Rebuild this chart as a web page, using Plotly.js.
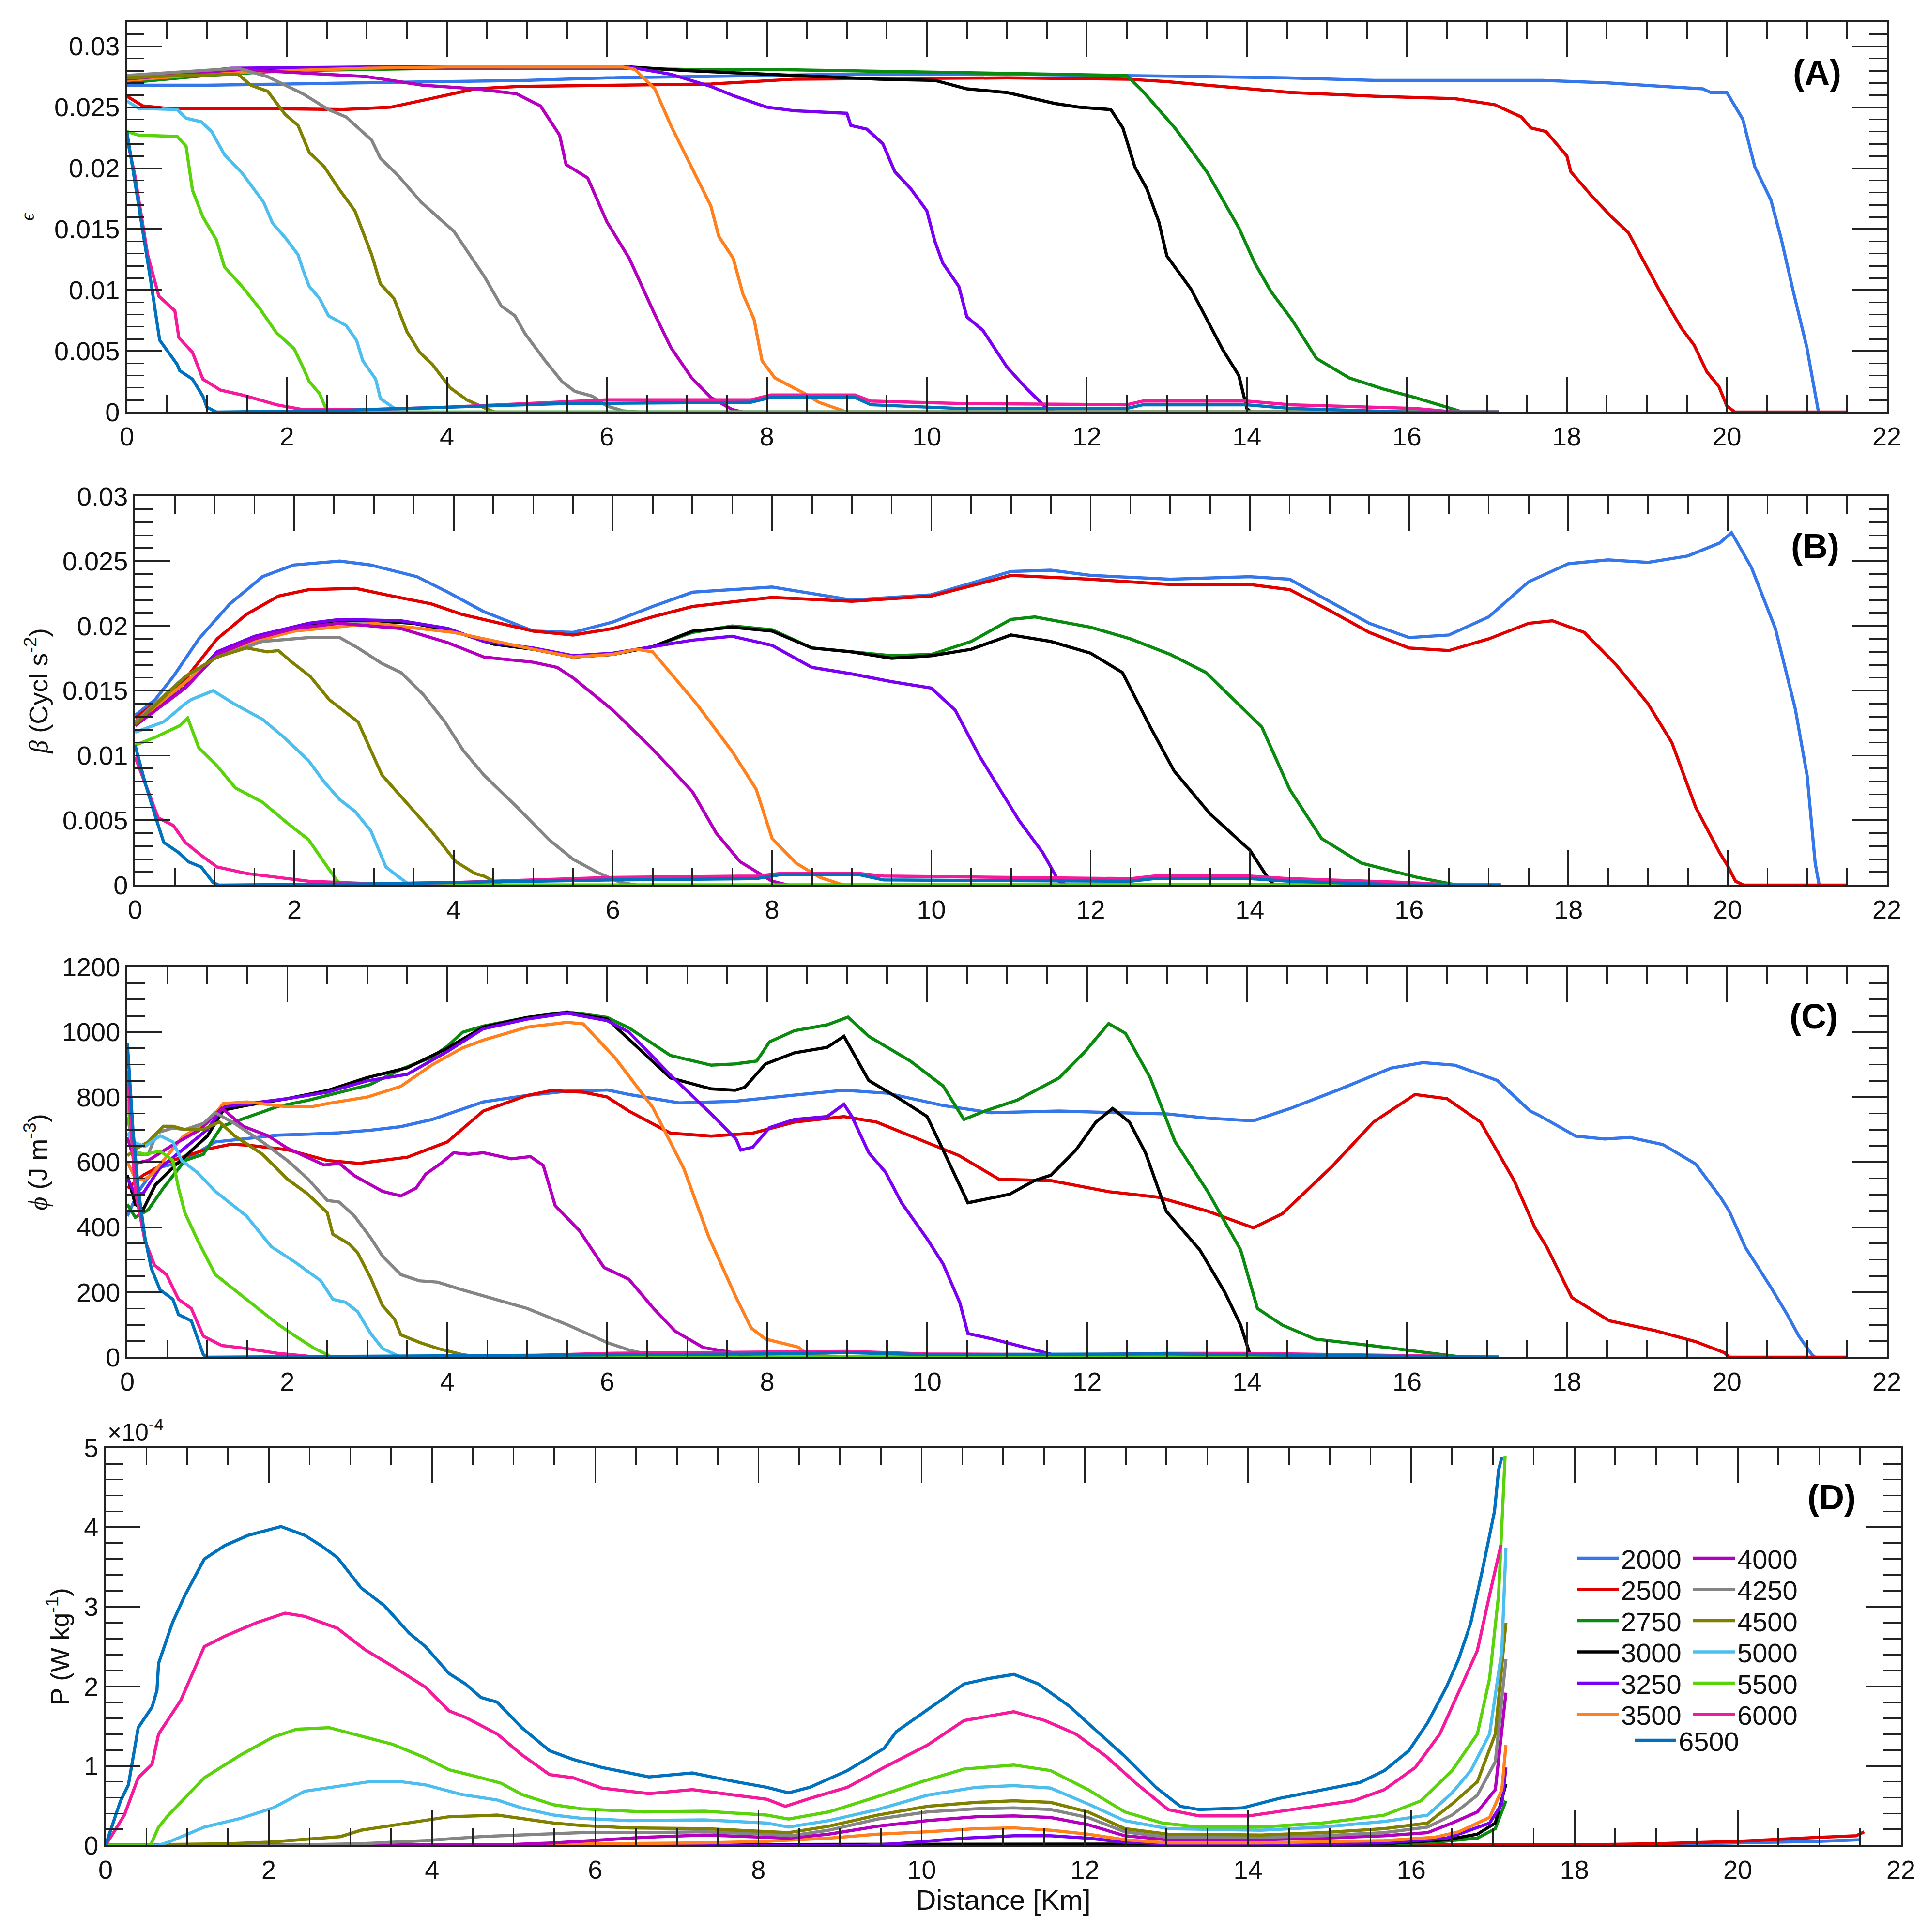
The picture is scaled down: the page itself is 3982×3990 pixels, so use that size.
<!DOCTYPE html>
<html>
<head>
<meta charset="utf-8">
<script src="https://cdn.plot.ly/plotly-3.0.1.min.js"></script>
<style>html,body{margin:0;padding:0;background:#fff}</style>
</head>
<body>
<div id="chart" style="width:3982px;height:3990px"></div>
<script>
// series labels (legend) in the order they are drawn
const depths = ['2000', '2500', '2750', '3000', '3250', '3500', '4000', '4250', '4500', '5000', '5500', '6000', '6500'];

// (A) epsilon vs distance [km]
const eps2000 = [[0,0.0268],[1,0.0268],[2,0.0269],[3,0.0270],[4,0.0271],[5,0.0272],[6,0.0274],[7,0.0275],[8,0.0276],[9,0.0277],[11,0.0277],[12.5,0.0276],[13.5,0.0275],[14.5,0.0274],[15.6,0.0272],[17.7,0.0272],[18.5,0.0270],[19.2,0.0267],[19.7,0.0265],[19.8,0.0262],[20.0,0.0262],[20.2,0.0240],[20.35,0.0201],[20.55,0.0174],[20.68,0.0142],[20.83,0.0099],[21.0,0.0053],[21.14,0.0002],[21.15,0]];
const eps2500 = [[0,0.0259],[0.2,0.0251],[0.5,0.0249],[1.5,0.0249],[2.7,0.0248],[3.3,0.0250],[3.8,0.0257],[4.35,0.0265],[4.9,0.0267],[6,0.0268],[7.3,0.0269],[8.35,0.0273],[10,0.0274],[11,0.0274],[12.5,0.0273],[13.0,0.0271],[13.5,0.0268],[14.55,0.0262],[15.6,0.0259],[16.6,0.0257],[17.1,0.0252],[17.43,0.0242],[17.55,0.0233],[17.74,0.0230],[18.0,0.0210],[18.05,0.0197],[18.3,0.0178],[18.56,0.0160],[18.77,0.0147],[18.97,0.0122],[19.18,0.0097],[19.43,0.0069],[19.59,0.0055],[19.75,0.0033],[19.9,0.0021],[20.0,0.0005],[20.1,0],[21.5,0]];
const eps2750 = [[0,0.0270],[1,0.0276],[2,0.0280],[3,0.0281],[4,0.0282],[6,0.0282],[7,0.0281],[8,0.0281],[9,0.0280],[10,0.0279],[11,0.0278],[12,0.0277],[12.5,0.0276],[12.7,0.0263],[13.1,0.0233],[13.5,0.0197],[13.9,0.0151],[14.1,0.0122],[14.3,0.0099],[14.56,0.0076],[14.87,0.0044],[15.28,0.0028],[15.7,0.0019],[16.1,0.0012],[16.6,0.0002],[16.7,0],[17.15,0]];
const eps3000 = [[0,0.0272],[1,0.0277],[1.5,0.0280],[3,0.0282],[5,0.0283],[6.3,0.0283],[7,0.0280],[8,0.0277],[9,0.0274],[9.4,0.0273],[10.1,0.0272],[10.5,0.0265],[11.0,0.0262],[11.6,0.0253],[11.9,0.0250],[12.3,0.0248],[12.45,0.0233],[12.6,0.0201],[12.75,0.0183],[12.9,0.0156],[13.0,0.0128],[13.3,0.0101],[13.5,0.0076],[13.7,0.0051],[13.9,0.0030],[14.0,0.0003],[14.05,0],[17.15,0]];
const eps3250 = [[0,0.0272],[0.5,0.0276],[1.3,0.0282],[3,0.0283],[6.28,0.0283],[6.8,0.0277],[7.3,0.0267],[7.6,0.0259],[8.0,0.0250],[8.35,0.0247],[9.0,0.0245],[9.05,0.0235],[9.25,0.0232],[9.45,0.0220],[9.6,0.0197],[9.8,0.0183],[10.0,0.0165],[10.1,0.0140],[10.2,0.0122],[10.4,0.0103],[10.5,0.0078],[10.7,0.0067],[11.0,0.0037],[11.25,0.0019],[11.5,0.0003],[11.6,0],[17.15,0]];
const eps3500 = [[0,0.0272],[1,0.0277],[2,0.0280],[3,0.0282],[4,0.0283],[6.2,0.0283],[6.35,0.0281],[6.6,0.0265],[6.8,0.0235],[7.06,0.0201],[7.3,0.0169],[7.4,0.0144],[7.58,0.0126],[7.7,0.0097],[7.84,0.0076],[7.94,0.0042],[8.1,0.0028],[8.36,0.0019],[8.45,0.0016],[8.65,0.0008],[8.9,0.0002],[9.0,0],[17.15,0]];
const eps4000 = [[0,0.0273],[0.7,0.0277],[1.39,0.0281],[2.2,0.0278],[3.0,0.0275],[3.7,0.0268],[4.36,0.0265],[4.87,0.0261],[5.17,0.0251],[5.41,0.0227],[5.49,0.0203],[5.76,0.0192],[6.0,0.0156],[6.28,0.0126],[6.6,0.0080],[6.8,0.0053],[7.06,0.0028],[7.3,0.0012],[7.57,0.0002],[7.7,0],[17.15,0]];
const eps4250 = [[0,0.0276],[0.7,0.0279],[1.39,0.0282],[1.76,0.0275],[2.2,0.0261],[2.52,0.0248],[2.74,0.0242],[3.06,0.0223],[3.17,0.0208],[3.39,0.0194],[3.68,0.0172],[4.09,0.0148],[4.28,0.0129],[4.47,0.0111],[4.68,0.0087],[4.85,0.0079],[4.98,0.0064],[5.23,0.0042],[5.44,0.0025],[5.6,0.0017],[5.82,0.0013],[6.0,0.0005],[6.2,0.0001],[6.4,0],[17.15,0]];
const eps4500 = [[0,0.0274],[0.7,0.0276],[1.39,0.0277],[1.55,0.0268],[1.76,0.0263],[1.98,0.0244],[2.14,0.0235],[2.28,0.0213],[2.47,0.0201],[2.64,0.0184],[2.85,0.0165],[3.06,0.0129],[3.17,0.0105],[3.34,0.0093],[3.5,0.0066],[3.66,0.0049],[3.82,0.0039],[4.04,0.0020],[4.25,0.0010],[4.41,0.0005],[4.52,0.0002],[4.6,0],[17.15,0]];
const eps5000 = [[0,0.0255],[0.15,0.0249],[0.63,0.0248],[0.74,0.0241],[0.93,0.0238],[1.06,0.0230],[1.22,0.0211],[1.44,0.0196],[1.71,0.0172],[1.82,0.0155],[1.98,0.0143],[2.14,0.0129],[2.2,0.0117],[2.28,0.0103],[2.41,0.0093],[2.52,0.0079],[2.74,0.0071],[2.87,0.0059],[2.95,0.0042],[3.11,0.0027],[3.17,0.0011],[3.39,0.0001],[3.5,0],[17.15,0]];
const eps5500 = [[0,0.0230],[0.15,0.0227],[0.63,0.0226],[0.74,0.0218],[0.82,0.0182],[0.95,0.0160],[1.12,0.0141],[1.22,0.0119],[1.44,0.0103],[1.66,0.0085],[1.87,0.0065],[2.09,0.0052],[2.2,0.0037],[2.28,0.0025],[2.41,0.0015],[2.5,0.0001],[2.55,0],[17.15,0]];
const eps6000 = [[0,0.0225],[0.1,0.0194],[0.26,0.0129],[0.4,0.0095],[0.6,0.0083],[0.65,0.0061],[0.82,0.0049],[0.95,0.0027],[1.17,0.0018],[1.44,0.0014],[1.66,0.0010],[1.87,0.0006],[2.2,0.0002],[3,0.0002],[4,0.0004],[5,0.0007],[6,0.0010],[7.8,0.0010],[8.05,0.0014],[9.1,0.0014],[9.3,0.0009],[10.4,0.0007],[12.5,0.0006],[12.7,0.0009],[14.0,0.0009],[14.55,0.0006],[16.1,0.0003],[16.6,0],[17.15,0]];
const eps6500 = [[0,0.0230],[0.15,0.0170],[0.3,0.0107],[0.41,0.0059],[0.63,0.0039],[0.66,0.0034],[0.82,0.0027],[0.95,0.0013],[1.0,0.0004],[1.12,0],[2.5,0.0001],[4,0.0004],[5.5,0.0007],[7.8,0.0008],[8.05,0.0012],[9.1,0.0012],[9.3,0.0006],[10.4,0.0003],[12.5,0.0003],[12.7,0.0006],[14,0.0006],[14.55,0.0003],[15.5,0.0001],[16,0],[17.15,0]];

// (B) beta [Cycl s^-2]
const beta2000 = [[0,0.0131],[0.25,0.0143],[0.48,0.0161],[0.8,0.0190],[1.19,0.0217],[1.6,0.0238],[1.99,0.0247],[2.57,0.0250],[2.96,0.0247],[3.54,0.0238],[3.93,0.0226],[4.38,0.0211],[5,0.0196],[5.5,0.0195],[6,0.0203],[6.5,0.0215],[7,0.0226],[8,0.0230],[9,0.0220],[10,0.0224],[11,0.0242],[11.5,0.0243],[12,0.0239],[13,0.0236],[14,0.0238],[14.5,0.0236],[15,0.0219],[15.5,0.0202],[16,0.0191],[16.5,0.0193],[17,0.0207],[17.5,0.0234],[18,0.0248],[18.5,0.0251],[19,0.0249],[19.5,0.0254],[19.9,0.0264],[20.05,0.0272],[20.3,0.0245],[20.6,0.0198],[20.85,0.0136],[21.0,0.0084],[21.1,0.0017],[21.15,0]];
const beta2500 = [[0,0.0129],[0.36,0.0145],[0.63,0.0159],[1.03,0.0190],[1.4,0.0209],[1.8,0.0223],[2.18,0.0228],[2.77,0.0229],[3.15,0.0224],[3.72,0.0217],[4.1,0.0209],[4.38,0.0205],[5,0.0196],[5.5,0.0193],[6,0.0198],[6.5,0.0207],[7,0.0215],[8,0.0222],[9,0.0219],[10,0.0223],[11,0.0239],[12,0.0236],[13,0.0232],[14,0.0232],[14.5,0.0228],[15,0.0212],[15.5,0.0195],[16,0.0183],[16.5,0.0181],[17,0.0190],[17.5,0.0202],[17.8,0.0204],[18.2,0.0195],[18.6,0.0170],[19,0.0140],[19.3,0.0110],[19.6,0.0060],[19.9,0.0025],[20.0,0.0015],[20.1,0.0003],[20.2,0],[21.5,0]];
const beta2750 = [[0,0.0125],[0.5,0.0150],[1,0.0175],[1.5,0.0188],[2,0.0198],[2.5,0.0204],[3,0.0204],[3.5,0.0202],[4,0.0196],[4.5,0.0186],[5,0.0182],[5.5,0.0176],[6,0.0178],[6.5,0.0184],[7,0.0195],[7.5,0.0200],[8,0.0197],[8.5,0.0183],[9,0.0180],[9.5,0.0177],[10,0.0178],[10.5,0.0188],[11,0.0205],[11.3,0.0207],[12,0.0199],[12.5,0.0190],[13,0.0178],[13.45,0.0164],[14.15,0.0122],[14.5,0.0074],[14.9,0.0036],[15.4,0.0017],[16.1,0.0006],[16.6,0],[17.15,0]];
const beta3000 = [[0,0.0125],[0.5,0.0150],[1,0.0175],[1.5,0.0188],[2,0.0198],[2.5,0.0204],[3,0.0204],[3.5,0.0202],[4,0.0196],[4.5,0.0186],[5,0.0182],[5.5,0.0176],[6,0.0178],[6.5,0.0184],[7,0.0196],[7.5,0.0199],[8,0.0196],[8.5,0.0183],[9,0.0180],[9.5,0.0175],[10,0.0177],[10.5,0.0182],[11,0.0193],[11.5,0.0188],[12,0.0179],[12.4,0.0164],[12.75,0.0122],[13.05,0.0088],[13.5,0.0055],[14.0,0.0027],[14.2,0.0008],[14.3,0],[17.15,0]];
const beta3250 = [[0,0.0123],[0.63,0.0153],[1.03,0.0180],[1.5,0.0192],[2.18,0.0202],[2.57,0.0205],[3.34,0.0204],[3.93,0.0198],[4.38,0.0188],[5,0.0183],[5.5,0.0177],[6,0.0179],[6.5,0.0184],[7,0.0189],[7.5,0.0192],[8,0.0185],[8.5,0.0168],[9,0.0163],[9.5,0.0157],[10,0.0152],[10.3,0.0135],[10.6,0.0100],[10.9,0.0070],[11.1,0.0050],[11.4,0.0025],[11.6,0.0003],[11.7,0],[17.15,0]];
const beta3500 = [[0,0.0125],[0.5,0.0150],[1,0.0175],[1.5,0.0188],[2,0.0196],[3,0.0202],[4,0.0195],[5,0.0182],[5.5,0.0176],[6,0.0178],[6.3,0.0182],[6.5,0.0180],[7.05,0.0140],[7.5,0.0103],[7.8,0.0074],[8.0,0.0036],[8.3,0.0017],[8.6,0.0006],[8.9,0],[17.15,0]];
const beta4000 = [[0,0.0123],[0.63,0.0152],[1.03,0.0178],[1.5,0.0190],[2.0,0.0198],[2.57,0.0202],[3.34,0.0198],[3.93,0.0187],[4.38,0.0176],[5,0.0172],[5.3,0.0168],[5.5,0.0160],[5.8,0.0145],[6,0.0135],[6.5,0.0105],[7,0.0072],[7.3,0.0040],[7.6,0.0018],[8,0.0003],[8.2,0],[17.15,0]];
const beta4250 = [[0,0.0126],[0.63,0.0161],[1.03,0.0176],[1.6,0.0188],[2.18,0.0191],[2.57,0.0191],[2.8,0.0183],[3.1,0.0171],[3.34,0.0164],[3.62,0.0147],[3.89,0.0126],[4.12,0.0104],[4.38,0.0085],[4.8,0.0060],[5.2,0.0035],[5.5,0.0020],[5.8,0.0010],[6.1,0.0002],[6.3,0],[17.15,0]];
const beta4500 = [[0,0.0124],[0.63,0.0161],[1.03,0.0176],[1.4,0.0183],[1.66,0.0180],[1.8,0.0181],[1.95,0.0173],[2.2,0.0161],[2.44,0.0143],[2.8,0.0126],[3.1,0.0085],[3.34,0.0068],[3.72,0.0042],[4.03,0.0018],[4.27,0.0009],[4.38,0.0007],[4.6,0],[17.15,0]];
const beta5000 = [[0,0.0118],[0.36,0.0126],[0.63,0.0140],[0.7,0.0143],[0.98,0.0150],[1.24,0.0140],[1.6,0.0128],[1.87,0.0114],[2.18,0.0096],[2.37,0.0080],[2.57,0.0066],[2.76,0.0057],[2.96,0.0042],[3.15,0.0014],[3.34,0.0005],[3.45,0],[17.15,0]];
const beta5500 = [[0,0.0108],[0.25,0.0114],[0.56,0.0123],[0.66,0.0129],[0.8,0.0106],[1.03,0.0092],[1.26,0.0075],[1.6,0.0064],[1.91,0.0048],[2.18,0.0035],[2.37,0.0018],[2.53,0.0004],[2.6,0],[17.15,0]];
const beta6000 = [[0,0.0099],[0.13,0.0078],[0.29,0.0052],[0.48,0.0046],[0.63,0.0033],[0.83,0.0023],[1.03,0.0014],[1.4,0.0009],[1.8,0.0006],[2.18,0.0003],[3,0.0001],[4,0.0002],[5,0.0004],[6,0.0006],[7.8,0.0007],[8.1,0.0009],[9.1,0.0009],[9.4,0.0007],[12.5,0.0005],[12.8,0.0007],[14,0.0007],[14.5,0.0005],[16,0.0002],[16.6,0],[17.15,0]];
const beta6500 = [[0,0.0108],[0.13,0.0078],[0.25,0.0054],[0.36,0.0033],[0.55,0.0025],[0.67,0.0018],[0.83,0.0014],[0.98,0.0002],[1.05,0],[3,0.0001],[5,0.0003],[6,0.0004],[7.8,0.0005],[8.1,0.0008],[9.1,0.0008],[9.4,0.0004],[12.5,0.0003],[12.8,0.0005],[14,0.0005],[14.5,0.0003],[15.5,0.0001],[16,0],[17.15,0]];

// (C) phi [J m^-3]
const phi2000 = [[0,434],[0.14,510],[0.34,580],[0.68,600],[1.1,662],[1.49,673],[1.88,683],[2.26,686],[2.65,690],[3.04,698],[3.42,709],[3.81,731],[4.19,764],[4.45,785],[5,805],[5.5,818],[6,822],[6.27,808],[6.9,782],[7.6,787],[8.3,805],[8.96,821],[9.5,812],[10.2,774],[10.8,752],[11.65,757],[12.5,751],[13.0,748],[13.5,735],[14.08,727],[14.54,765],[15.17,825],[15.8,889],[16.2,906],[16.6,898],[17.13,851],[17.54,757],[17.65,744],[18.11,680],[18.47,671],[18.79,676],[19.2,654],[19.61,594],[19.92,492],[20.03,449],[20.23,338],[20.54,219],[20.75,133],[20.9,65],[21.06,9],[21.1,0]];
const phi2500 = [[0,520],[0.2,560],[0.5,600],[1,640],[1.3,655],[1.5,652],[2,638],[2.5,605],[2.9,596],[3.5,615],[4,662],[4.45,757],[5,805],[5.3,820],[5.7,815],[6,800],[6.27,757],[6.79,689],[7.3,680],[7.82,689],[8.34,723],[8.96,740],[9.37,723],[9.89,671],[10.4,620],[10.9,547],[11.55,543],[12.27,509],[12.89,492],[13.51,449],[14.08,398],[14.44,441],[15.06,586],[15.58,723],[16.1,808],[16.5,795],[16.92,723],[17.34,543],[17.6,398],[17.75,338],[18.06,184],[18.53,112],[19.1,82],[19.61,48],[19.97,14],[20.03,0],[21.5,0]];
const phi2750 = [[0,470],[0.1,430],[0.26,453],[0.45,520],[0.72,605],[0.95,624],[1.18,710],[1.49,738],[1.88,771],[2.26,790],[2.65,814],[3.03,838],[3.42,885],[3.81,923],[4.0,956],[4.19,999],[4.45,1018],[5,1045],[5.5,1062],[6,1045],[6.27,1013],[6.79,928],[7.3,898],[7.6,902],[7.87,911],[8.03,970],[8.34,1004],[8.75,1022],[9.01,1046],[9.27,987],[9.79,911],[10.2,834],[10.46,731],[10.72,757],[11.13,791],[11.65,859],[11.96,936],[12.27,1026],[12.48,996],[12.79,859],[13.1,663],[13.51,509],[13.92,330],[14.13,150],[14.44,99],[14.85,56],[15.58,35],[16.1,18],[16.56,5],[16.7,0],[17.15,0]];
const phi3000 = [[0,560],[0.1,470],[0.2,455],[0.35,530],[0.6,590],[1,680],[1.2,760],[1.5,775],[2,795],[2.5,820],[3,860],[3.5,890],[4,950],[4.45,1015],[5,1045],[5.5,1060],[6,1040],[6.27,979],[6.79,859],[7.3,825],[7.6,821],[7.72,830],[7.98,902],[8.34,936],[8.75,953],[8.96,987],[9.27,851],[9.68,791],[10.0,740],[10.2,637],[10.35,560],[10.51,475],[11.03,501],[11.34,543],[11.55,560],[11.86,637],[12.11,723],[12.32,765],[12.53,723],[12.73,629],[12.99,449],[13.41,330],[13.72,201],[13.92,99],[14.03,14],[14.1,0],[17.15,0]];
const phi3250 = [[0,550],[0.1,500],[0.2,505],[0.4,580],[0.7,640],[1.0,700],[1.2,770],[1.5,780],[2,795],[2.5,815],[3,850],[3.5,870],[4,940],[4.45,1010],[5,1040],[5.5,1058],[6,1035],[6.27,1000],[6.79,868],[7.3,748],[7.61,671],[7.67,637],[7.82,646],[8.03,706],[8.34,731],[8.75,740],[8.96,778],[9.06,740],[9.27,629],[9.48,569],[9.68,475],[10.0,364],[10.2,287],[10.41,167],[10.51,73],[10.82,56],[11.23,31],[11.54,10],[11.6,0],[17.15,0]];
const phi3500 = [[0,600],[0.1,550],[0.2,545],[0.3,560],[0.5,620],[0.7,680],[1,720],[1.2,780],[1.5,785],[2,770],[2.3,770],[2.5,780],[3,800],[3.42,833],[3.81,899],[4.19,951],[4.45,975],[5,1015],[5.5,1030],[5.7,1025],[6.1,920],[6.57,768],[6.96,579],[7.27,370],[7.61,185],[7.8,90],[7.98,56],[8.39,31],[8.5,10],[8.9,0],[17.15,0]];
const phi4000 = [[0,676],[0.1,596],[0.26,605],[0.57,653],[0.91,700],[1.18,766],[1.45,710],[1.76,681],[2.0,643],[2.26,615],[2.46,591],[2.65,596],[2.84,558],[3.19,510],[3.42,496],[3.61,520],[3.73,563],[3.92,596],[4.08,629],[4.27,624],[4.45,629],[4.8,610],[5.04,617],[5.2,590],[5.35,466],[5.65,390],[5.96,276],[6.27,240],[6.58,150],[6.85,80],[7.2,30],[7.66,10],[7.8,0],[17.15,0]];
const phi4250 = [[0,738],[0.1,624],[0.26,624],[0.37,690],[0.57,705],[0.72,700],[0.95,719],[1.1,752],[1.34,719],[1.69,662],[2.0,605],[2.26,548],[2.5,482],[2.65,477],[2.84,434],[3.04,368],[3.19,311],[3.42,254],[3.65,235],[3.88,231],[4.19,207],[4.45,188],[5,150],[5.5,100],[6,45],[6.3,20],[6.6,5],[6.8,0],[17.15,0]];
const phi4500 = [[0,620],[0.1,640],[0.26,662],[0.45,710],[0.57,710],[0.72,700],[0.95,700],[1.15,724],[1.34,681],[1.69,624],[2.0,548],[2.26,501],[2.5,444],[2.57,378],[2.77,349],[2.88,321],[3.04,245],[3.19,159],[3.34,117],[3.42,69],[3.65,46],[3.88,27],[4.19,8],[4.45,0],[17.15,0]];
const phi5000 = [[0,690],[0.07,662],[0.22,648],[0.41,681],[0.57,662],[0.68,605],[0.88,567],[1.1,510],[1.49,434],[1.8,340],[2.1,292],[2.42,235],[2.57,178],[2.73,169],[2.88,140],[3.04,74],[3.19,27],[3.34,8],[3.42,0],[17.15,0]];
const phi5500 = [[0,795],[0.07,634],[0.22,624],[0.41,634],[0.57,605],[0.64,520],[0.72,444],[0.88,359],[1.1,254],[1.49,178],[1.88,102],[2.1,65],[2.34,27],[2.5,8],[2.55,0],[17.15,0]];
const phi6000 = [[0,880],[0.1,510],[0.22,359],[0.34,283],[0.49,254],[0.64,178],[0.8,150],[0.95,65],[1.18,36],[1.49,27],[1.88,12],[2.26,3],[3,0],[5,5],[6,12],[8,15],[9,18],[10,10],[12,8],[13,12],[14,12],[16,5],[17.15,0]];
const phi6500 = [[0,966],[0.07,700],[0.14,510],[0.22,368],[0.3,273],[0.41,207],[0.57,178],[0.64,131],[0.8,112],[0.95,8],[0.99,0],[5,5],[8,10],[9,14],[10,8],[13,10],[14,8],[16,2],[17.15,0]];

// (D) P [1e-4 W kg^-1]
const pow2000 = [[0,0],[17.15,0],[19,0.005],[20,0.03],[21,0.05],[21.5,0.07]];
const pow2500 = [[0,0],[17.15,0],[18,0.005],[19,0.02],[20,0.05],[21,0.1],[21.45,0.12],[21.55,0.17]];
const pow2750 = [[0,0],[15,0.01],[16.2,0.03],[16.81,0.09],[17.03,0.21],[17.16,0.56]];
const pow3000 = [[0,0],[15,0.01],[15.67,0.02],[16.43,0.07],[16.81,0.14],[17.03,0.28],[17.16,0.77]];
const pow3250 = [[0,0],[9.3,0],[9.69,0.02],[10.07,0.05],[10.52,0.09],[11.13,0.12],[11.58,0.12],[12.04,0.09],[12.49,0.04],[13.02,0.02],[14.16,0.02],[15.67,0.03],[16.43,0.09],[16.66,0.17],[16.96,0.28],[17.11,0.52],[17.16,0.98]];
const pow3500 = [[0,0],[5,0.01],[7.34,0.03],[8.1,0.05],[8.86,0.09],[9.46,0.14],[10.07,0.17],[10.67,0.21],[11.13,0.22],[11.58,0.19],[12.04,0.14],[12.49,0.07],[13.02,0.03],[14.16,0.03],[15.67,0.06],[16.28,0.1],[16.58,0.17],[16.96,0.35],[17.11,0.7],[17.16,1.26]];
const pow4000 = [[0,0],[5,0.01],[5.5,0.03],[6.4,0.08],[6.59,0.1],[7.34,0.13],[8.1,0.1],[8.37,0.09],[8.86,0.14],[9.46,0.24],[10.07,0.31],[10.67,0.36],[11.13,0.37],[11.58,0.35],[12.04,0.26],[12.49,0.12],[13.02,0.07],[14.16,0.07],[14.91,0.09],[15.67,0.12],[16.2,0.16],[16.5,0.28],[16.81,0.42],[17.03,0.7],[17.16,1.92]];
const pow4250 = [[0,0],[2,0],[3.13,0.02],[3.92,0.06],[4.6,0.11],[5.1,0.13],[5.83,0.16],[6.59,0.16],[7.34,0.17],[8.1,0.14],[8.4,0.12],[8.86,0.19],[9.46,0.33],[10.07,0.42],[10.67,0.46],[11.13,0.47],[11.58,0.45],[12.04,0.35],[12.49,0.17],[13.02,0.1],[14.16,0.1],[14.91,0.12],[15.67,0.16],[16.2,0.23],[16.5,0.38],[16.81,0.63],[17.03,1.05],[17.16,2.34]];
const pow4500 = [[0,0],[1.5,0.02],[2,0.04],[2.5,0.08],[2.88,0.11],[3.13,0.19],[3.52,0.25],[3.92,0.32],[4.21,0.36],[4.8,0.38],[5.1,0.34],[5.49,0.28],[5.83,0.25],[6.41,0.22],[7.34,0.21],[8.1,0.17],[8.37,0.16],[8.86,0.24],[9.46,0.38],[10.07,0.49],[10.67,0.54],[11.13,0.56],[11.58,0.54],[12.04,0.42],[12.49,0.21],[13.02,0.14],[14.16,0.13],[14.91,0.16],[15.67,0.21],[16.2,0.28],[16.5,0.52],[16.81,0.8],[17.03,1.4],[17.16,2.8]];
const pow5000 = [[0,0],[0.65,0],[0.77,0.04],[1.21,0.23],[1.66,0.34],[2.05,0.47],[2.44,0.68],[2.84,0.74],[3.23,0.8],[3.62,0.8],[3.92,0.76],[4.36,0.64],[4.8,0.57],[5.1,0.47],[5.49,0.38],[5.83,0.34],[6.41,0.31],[7.34,0.32],[8.1,0.28],[8.37,0.23],[8.86,0.31],[9.46,0.45],[10.07,0.63],[10.67,0.73],[11.13,0.75],[11.58,0.72],[12.04,0.52],[12.49,0.31],[13.02,0.21],[14.16,0.19],[14.91,0.23],[15.67,0.3],[16.2,0.38],[16.5,0.66],[16.73,0.94],[16.96,1.4],[17.11,2.45],[17.16,3.74]];
const pow5500 = [[0,0],[0.55,0],[0.65,0.23],[0.77,0.38],[1.21,0.85],[1.66,1.14],[2.05,1.36],[2.34,1.46],[2.74,1.48],[3.13,1.38],[3.52,1.27],[3.92,1.1],[4.21,0.95],[4.6,0.85],[4.85,0.78],[5.1,0.64],[5.49,0.51],[5.83,0.46],[6.59,0.42],[7.34,0.43],[8.1,0.38],[8.37,0.33],[8.86,0.42],[9.39,0.59],[10.0,0.8],[10.52,0.96],[11.13,1.01],[11.58,0.94],[12.04,0.7],[12.49,0.42],[12.95,0.28],[13.4,0.23],[14.16,0.23],[14.91,0.28],[15.67,0.38],[16.12,0.56],[16.5,0.94],[16.81,1.4],[16.96,2.1],[17.07,3.15],[17.15,4.9]];
const pow6000 = [[0,0],[0.23,0.38],[0.4,0.85],[0.57,1.02],[0.65,1.4],[0.92,1.82],[1.21,2.5],[1.46,2.63],[1.85,2.8],[2.2,2.92],[2.44,2.88],[2.84,2.73],[3.18,2.46],[3.52,2.25],[3.92,1.99],[4.21,1.69],[4.41,1.61],[4.8,1.4],[5.1,1.14],[5.44,0.89],[5.73,0.85],[6.08,0.72],[6.66,0.65],[7.19,0.7],[7.72,0.63],[8.1,0.58],[8.33,0.49],[8.63,0.59],[9.09,0.73],[9.54,0.98],[10.07,1.26],[10.52,1.57],[11.13,1.68],[11.51,1.57],[11.89,1.4],[12.26,1.12],[12.64,0.77],[13.02,0.45],[13.4,0.37],[14.01,0.37],[14.54,0.45],[15.29,0.56],[15.67,0.7],[16.05,0.98],[16.35,1.4],[16.58,1.92],[16.81,2.45],[16.96,3.15],[17.1,3.78]];
const pow6500 = [[0,0],[0.18,0.55],[0.28,0.76],[0.4,1.48],[0.57,1.74],[0.63,1.95],[0.65,2.29],[0.82,2.8],[0.97,3.14],[1.21,3.6],[1.46,3.77],[1.75,3.9],[2.15,4.01],[2.44,3.9],[2.64,3.77],[2.84,3.62],[3.13,3.24],[3.42,3.01],[3.72,2.67],[3.92,2.5],[4.21,2.16],[4.41,2.03],[4.6,1.86],[4.8,1.8],[5.1,1.48],[5.44,1.19],[5.73,1.08],[6.08,0.98],[6.66,0.86],[7.19,0.91],[7.72,0.8],[8.1,0.73],[8.37,0.66],[8.63,0.73],[9.09,0.94],[9.54,1.22],[9.69,1.43],[10.14,1.75],[10.52,2.03],[10.83,2.1],[11.13,2.15],[11.43,2.03],[11.81,1.75],[12.11,1.47],[12.49,1.12],[12.87,0.73],[13.17,0.49],[13.4,0.45],[13.93,0.47],[14.38,0.59],[14.91,0.7],[15.37,0.79],[15.67,0.94],[15.97,1.19],[16.2,1.54],[16.43,1.99],[16.58,2.34],[16.73,2.8],[16.88,3.5],[17.02,4.2],[17.07,4.72],[17.11,4.88]];

const colors = ['#3577e8', '#e00000', '#0b8a10', '#000000', '#7b00f2', '#ff801c', '#b400be', '#858585', '#7f7f00', '#4dbeee', '#5ad20c', '#f41a9c', '#0072bd'];

const FONT = '"Liberation Sans", Arial, sans-serif';
const W = 3982, H = 3990;
// pixel box -> paper domain
const dx = (a, b) => [a / W, b / W];
const dy = (top, bottom) => [1 - bottom / H, 1 - top / H];

const panels = [
  {series: [eps2000, eps2500, eps2750, eps3000, eps3250, eps3500, eps4000, eps4250, eps4500, eps5000, eps5500, eps6000, eps6500], xa: 'x', ya: 'y'},
  {series: [beta2000, beta2500, beta2750, beta3000, beta3250, beta3500, beta4000, beta4250, beta4500, beta5000, beta5500, beta6000, beta6500], xa: 'x2', ya: 'y2'},
  {series: [phi2000, phi2500, phi2750, phi3000, phi3250, phi3500, phi4000, phi4250, phi4500, phi5000, phi5500, phi6000, phi6500], xa: 'x3', ya: 'y3'},
  {series: [pow2000, pow2500, pow2750, pow3000, pow3250, pow3500, pow4000, pow4250, pow4500, pow5000, pow5500, pow6000, pow6500], xa: 'x4', ya: 'y4'}
];

const legendKey = (i) => i === 0 ? 'legend' : 'legend' + (i + 1);

const traces = [];
panels.forEach((p, pi) => {
  p.series.forEach((pts, si) => {
    const t = {
      type: 'scatter', mode: 'lines',
      x: pts.map(d => d[0]), y: pts.map(d => d[1]),
      xaxis: p.xa, yaxis: p.ya,
      name: depths[si],
      line: {color: colors[si], width: 6.5},
      showlegend: pi === 3
    };
    if (pi === 3) t.legend = legendKey(si);
    traces.push(t);
  });
});

function axis(extra, minorStep) {
  return Object.assign({
    showline: true, linecolor: '#222', linewidth: 4, mirror: 'ticks',
    ticks: 'inside', ticklen: 72, tickwidth: 3.5, tickcolor: '#222',
    minor: {ticks: 'inside', ticklen: 36, tickwidth: 3.5, tickcolor: '#222', dtick: minorStep},
    showgrid: false, zeroline: false, exponentformat: 'none',
    tickfont: {family: FONT, size: 54, color: '#111'}
  }, extra);
}
const xCommon = {range: [0, 22], tick0: 0, dtick: 2};
const ytitle = (txt) => ({text: txt, font: {family: FONT, size: 54, color: '#111'}, standoff: 14});

const greek = (c) => '<span style="font-family:\'Liberation Serif\',serif;font-style:italic">' + c + '</span>';

// panel tags: [text, centre x px, centre y px]
const tags = [['(A)', 3753, 150], ['(B)', 3749, 1128], ['(C)', 3746, 2099], ['(D)', 3783, 3092]];

const layout = {
  width: W, height: H,
  margin: {l: 0, r: 0, t: 0, b: 0},
  paper_bgcolor: '#fff', plot_bgcolor: '#fff',
  font: {family: FONT, color: '#111'},
  xaxis: axis(Object.assign({domain: dx(262, 3897), anchor: 'y'}, xCommon), 0.5),
  xaxis2: axis(Object.assign({domain: dx(279, 3897), anchor: 'y2'}, xCommon), 0.5),
  xaxis3: axis(Object.assign({domain: dx(263, 3897), anchor: 'y3'}, xCommon), 0.5),
  xaxis4: axis(Object.assign({domain: dx(218, 3926), anchor: 'y4',
    title: {text: 'Distance [Km]', font: {family: FONT, size: 58, color: '#111'}, standoff: 6}}, xCommon), 0.5),
  yaxis: axis({domain: dy(45, 851), anchor: 'x', range: [0, 0.032], tick0: 0, dtick: 0.005,
    title: {text: greek('ϵ'), font: {family: FONT, size: 40, color: '#111'}, standoff: 30}}, 0.001),
  yaxis2: axis({domain: dy(1025, 1828), anchor: 'x2', range: [0, 0.03], tick0: 0, dtick: 0.005,
    title: ytitle(greek('β') + ' (Cycl s<sup>-2</sup>)')}, 0.001),
  yaxis3: axis({domain: dy(1997, 2803), anchor: 'x3', range: [0, 1200], tick0: 0, dtick: 200,
    title: ytitle(greek('ϕ') + ' (J m<sup>-3</sup>)')}, 50),
  yaxis4: axis({domain: dy(2990, 3811), anchor: 'x4', range: [0, 5], tick0: 0, dtick: 1,
    title: ytitle('P (W kg<sup>-1</sup>)')}, 0.2),
  annotations: tags.map(t => ({
    text: '<b>' + t[0] + '</b>', x: t[1] / W, y: 1 - t[2] / H,
    xref: 'paper', yref: 'paper', xanchor: 'center', yanchor: 'middle',
    showarrow: false, font: {family: FONT, size: 72, color: '#000'}
  })).concat([
    {text: '×10<sup>-4</sup>', xref: 'paper', yref: 'paper', x: 220 / W, y: 1 - 2988 / H,
      xanchor: 'left', yanchor: 'bottom', showarrow: false,
      font: {family: FONT, size: 50, color: '#111'}}
  ])
};

// one single-entry legend per series, laid out as two columns plus a centred last row
const legendLeft = [3252, 3492, 3371];
const legendRow0 = 3218, legendRowStep = 64.5, legendLastRow = 3594;
depths.forEach((d, si) => {
  const col = si < 6 ? 0 : (si < 12 ? 1 : 2);
  const cy = col === 2 ? legendLastRow : legendRow0 + (si % 6) * legendRowStep;
  layout[legendKey(si)] = {
    x: legendLeft[col] / W, y: 1 - cy / H, xref: 'paper', yref: 'paper',
    xanchor: 'left', yanchor: 'middle',
    bgcolor: 'rgba(0,0,0,0)', borderwidth: 0, itemwidth: 86,
    font: {family: FONT, size: 56, color: '#111'}
  };
});

Plotly.newPlot('chart', traces, layout, {staticPlot: true});
</script>
</body>
</html>
